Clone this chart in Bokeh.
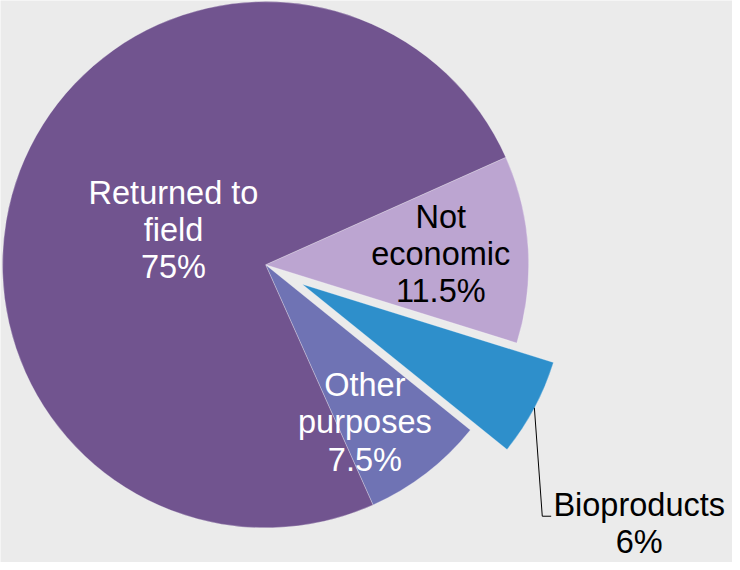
import math
from bokeh.plotting import figure
from bokeh.models import Range1d, ColumnDataSource
from bokeh.core.properties import value
from bokeh.embed import file_html
from bokeh.resources import INLINE

# ---- data ----
categories = ["Not economic", "Bioproducts", "Other purposes", "Returned to field"]
shares = [11.5, 6.0, 7.5, 75.0]
labels = ["Not\neconomic\n11.5%", "Bioproducts\n6%", "Other\npurposes\n7.5%", "Returned to\nfield\n75%"]
colors = ["#BCA5D1", "#2E8FCB", "#6F73B4", "#71548F"]
text_colors = ["#000000", "#000000", "#FFFFFF", "#FFFFFF"]
explode = [0, 1, 0, 0]

# ---- geometry (reference-pixel data space, y up) ----
W, H = 732, 562
cx, cy = 268, -268
R = 266
start_deg = 24.1          # first slice starts here and goes clockwise
explode_dist = 42
FONT = "32.5px"
LH = 1.03
# label placement per slice: (angle offset from mid in deg, distance as fraction of R)
label_polar = [(0.2, 0.667), None, (-5.5, 0.71), (0.3, 0.374)]

p = figure(width=W, height=H, output_backend="svg", toolbar_location=None,
           x_range=Range1d(0, 740), y_range=Range1d(-570, 0),
           min_border=0, background_fill_color="#EBEBEB", border_fill_color="#EBEBEB")
p.axis.visible = False
p.grid.visible = False
p.outline_line_color = None

total = sum(shares)
ang = start_deg
xs, ys, sa, ea, mids = [], [], [], [], []
for s, ex in zip(shares, explode):
    span = s / total * 360.0
    a_end = ang
    a_start = ang - span
    mid = (a_start + a_end) / 2
    ox = ex * explode_dist * math.cos(math.radians(mid))
    oy = ex * explode_dist * math.sin(math.radians(mid))
    xs.append(cx + ox)
    ys.append(cy + oy)
    sa.append(math.radians(a_start))
    ea.append(math.radians(a_end))
    mids.append(mid)
    ang = a_start

src = ColumnDataSource(dict(x=xs, y=ys, start=sa, end=ea, color=colors, cat=categories))
p.wedge(x="x", y="y", radius=R, start_angle="start", end_angle="end",
        fill_color="color", line_color="white", line_alpha=0.35, line_width=0.8, source=src)

# inside labels
lx, ly, lt, lc = [], [], [], []
for i, lp in enumerate(label_polar):
    if lp is None:
        continue
    a = math.radians(mids[i] + lp[0])
    lx.append(cx + lp[1] * R * math.cos(a))
    ly.append(cy + lp[1] * R * math.sin(a))
    lt.append(labels[i])
    lc.append(text_colors[i])
p.text(x=lx, y=ly, text=lt, text_color=lc, text_align="center", text_baseline="middle",
       text_font=value("Liberation Sans"), text_font_size=FONT, text_line_height=LH)

# Bioproducts outside label with leader line
bi = 1
a = math.radians(mids[bi])
sx = xs[bi] + R * math.cos(a)
sy = ys[bi] + R * math.sin(a)
elbow = (sx + 8, sy - 110)
end_pt = (elbow[0] + 9, elbow[1])
p.line(x=[sx, elbow[0], end_pt[0]], y=[sy, elbow[1], end_pt[1]],
       line_color="black", line_width=1.0)
p.text(x=[end_pt[0] + 89], y=[end_pt[1] - 7.5], text=[labels[bi]], text_color=text_colors[bi],
       text_align="center", text_baseline="middle",
       text_font=value("Liberation Sans"), text_font_size=FONT, text_line_height=LH)

open("out.html", "w").write(file_html(p, INLINE))
